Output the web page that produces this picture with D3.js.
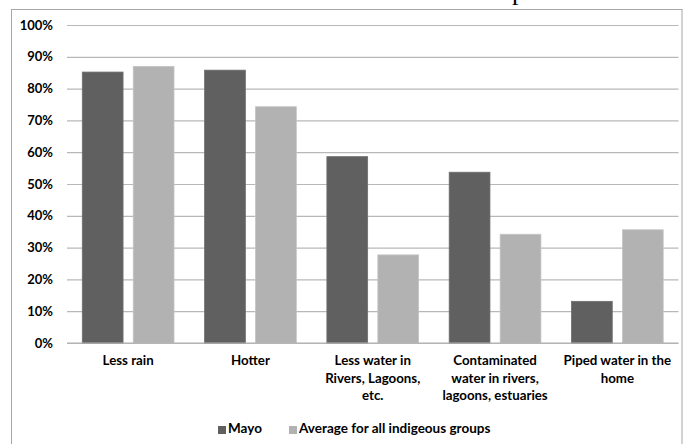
<!DOCTYPE html>
<html>
<head>
<meta charset="utf-8">
<script src="https://cdn.jsdelivr.net/npm/d3@7"></script>
<style>
  html, body { margin: 0; padding: 0; background: #fff; }
  svg text { font-family: Lato, "Open Sans", sans-serif; font-weight: bold; fill: #000; }
</style>
</head>
<body>
<svg id="chart" width="683" height="444"></svg>
<script>
(function() {
    // Chart data
    const categories = ['Less rain', 'Hotter', 'Less water in Rivers, Lagoons, etc.',
        'Contaminated water in rivers, lagoons, estuaries', 'Piped water in the home'];
    const categoryLines = [
        ['Less rain'],
        ['Hotter'],
        ['Less water in', 'Rivers, Lagoons,', 'etc.'],
        ['Contaminated', 'water in rivers,', 'lagoons, estuaries'],
        ['Piped water in the', 'home']
    ];
    const seriesNames = ['Mayo', 'Average for all indigeous groups'];
    const mayoValues = [0.852, 0.858, 0.586, 0.537, 0.131];
    const averageValues = [0.870, 0.743, 0.277, 0.342, 0.356];
    const yTicks = [0, 0.1, 0.2, 0.3, 0.4, 0.5, 0.6, 0.7, 0.8, 0.9, 1.0];

    const colors = ['#606060', '#b2b2b2'];

    const svg = d3.select('#chart');
    const width = 683;
    const height = 444;
    const margin = { top: 25, right: 5, bottom: 101, left: 67 };
    const plotWidth = 678.5 - margin.left;
    const plotHeight = height - margin.top - margin.bottom;

    // outer frame (chart area border)
    svg.append('rect')
        .attr('x', 11.5)
        .attr('y', 9.5)
        .attr('width', 670.5)
        .attr('height', 450)
        .attr('fill', '#fff')
        .attr('stroke', '#a6a6a6')
        .attr('stroke-width', 1);

    // title is cut off above the picture; only the descender shows
    svg.append('text')
        .attr('x', 512)
        .attr('y', -0.5)
        .style('font-family', '"Liberation Serif", serif')
        .style('font-weight', 'normal')
        .style('font-size', '26px')
        .text('p');

    const g = svg.append('g')
        .attr('transform', `translate(${margin.left}, ${margin.top})`);

    const xScale = d3.scaleBand()
        .domain(categories)
        .range([0, plotWidth])
        .padding(0);

    const xInner = d3.scaleBand()
        .domain(seriesNames)
        .range([0, xScale.bandwidth()])
        .paddingInner(0.2)
        .paddingOuter(0.3);

    const yScale = d3.scaleLinear()
        .domain([0, 1])
        .range([plotHeight, 0]);

    // gridlines + y labels
    const yAxis = g.append('g')
        .attr('class', 'y-axis')
        .call(d3.axisLeft(yScale)
            .tickValues(yTicks)
            .tickFormat(d3.format('.0%'))
            .tickSize(-plotWidth)
            .tickPadding(14));
    yAxis.select('.domain').remove();
    yAxis.selectAll('line')
        .attr('stroke', '#b8b8b8')
        .attr('stroke-width', 1.2);
    yAxis.selectAll('text')
        .attr('font-size', '13px')
        .style('font-family', 'Lato, sans-serif');

    // bars
    const seriesValues = [mayoValues, averageValues];
    seriesValues.forEach((values, si) => {
        g.selectAll(`.bar-${si}`)
            .data(values)
            .enter()
            .append('rect')
            .attr('class', `bar-${si}`)
            .attr('x', (d, i) => xScale(categories[i]) + xInner(seriesNames[si]))
            .attr('y', d => yScale(d))
            .attr('width', xInner.bandwidth())
            .attr('height', d => plotHeight - yScale(d))
            .attr('fill', colors[si])
            .attr('stroke', si === 0 ? '#6e6e6e' : '#c4c4c4')
            .attr('stroke-width', 0.8);
    });

    // x axis baseline
    g.append('line')
        .attr('x1', 0)
        .attr('x2', plotWidth)
        .attr('y1', plotHeight)
        .attr('y2', plotHeight)
        .attr('stroke', '#b0b0b0')
        .attr('stroke-width', 1.2);

    // category labels (wrapped)
    categories.forEach((c, i) => {
        const t = g.append('text')
            .attr('x', xScale(c) + xScale.bandwidth() / 2)
            .attr('y', plotHeight + 22)
            .attr('text-anchor', 'middle')
            .attr('font-size', '13.3px');
        categoryLines[i].forEach((line, li) => {
            t.append('tspan')
                .attr('x', xScale(c) + xScale.bandwidth() / 2)
                .attr('dy', li === 0 ? 0 : 17.5)
                .text(line);
        });
    });

    // legend
    const legend = svg.append('g')
        .attr('transform', 'translate(218, 430)');
    const legendX = [0, 71];
    seriesNames.forEach((name, i) => {
        legend.append('rect')
            .attr('x', legendX[i])
            .attr('y', -4)
            .attr('width', 8)
            .attr('height', 8)
            .attr('fill', colors[i]);
        legend.append('text')
            .attr('x', legendX[i] + 10)
            .attr('y', 0)
            .attr('dominant-baseline', 'middle')
            .attr('font-size', '13.5px')
            .text(name);
    });
})();
</script>
</body>
</html>
